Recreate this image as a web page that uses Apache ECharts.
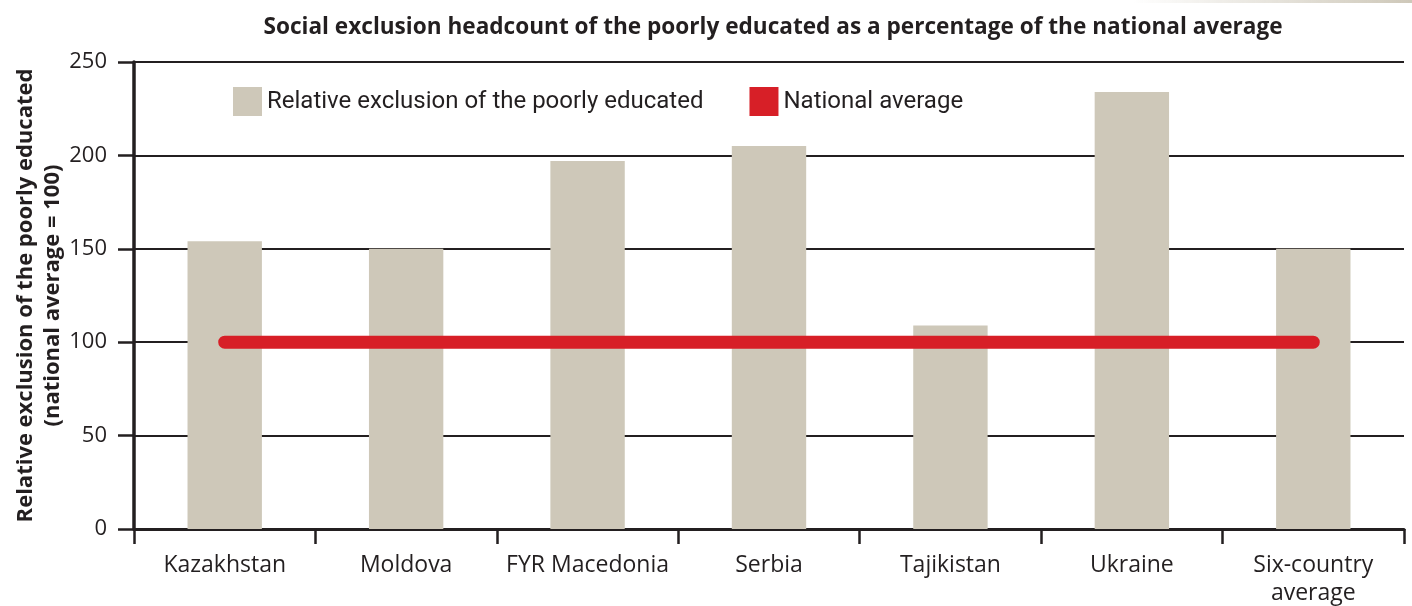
<!DOCTYPE html>
<html lang="en">
<head>
  <meta charset="UTF-8">
  <title>Social exclusion headcount of the poorly educated</title>
  <style>
    html, body { margin: 0; padding: 0; background: #fff; }
    #chart { width: 1412px; height: 606px; }
  </style>
  <script src="https://cdn.jsdelivr.net/npm/echarts@6/dist/echarts.min.js"></script>
</head>
<body>
<div id="chart"></div>
<script>
  // data
  var categories = ['Kazakhstan', 'Moldova', 'FYR Macedonia', 'Serbia', 'Tajikistan', 'Ukraine', 'Six-country\naverage'];
  var exclusion = [154, 150, 197, 205, 109, 234, 150];
  var nationalAverage = [100, 100, 100, 100, 100, 100, 100];

  var ink = '#231f20';
  var font = 'Open Sans';

  var myChart = echarts.init(document.getElementById('chart'));

  var option = {
    animation: false,
    title: {
      text: 'Social exclusion headcount of the poorly educated as a percentage of the national average',
      left: 768,
      textAlign: 'center',
      top: 11,
      textStyle: { fontFamily: font, fontWeight: 'bold', fontSize: 22.6, color: ink }
    },
    graphic: [{
      type: 'rect',
      right: 0,
      top: 0,
      shape: { width: 280, height: 3 },
      style: {
        fill: new echarts.graphic.LinearGradient(0, 0, 1, 0, [
          { offset: 0, color: 'rgba(206,200,185,0)' },
          { offset: 1, color: 'rgba(206,200,185,1)' }
        ])
      }
    }],
    legend: {
      left: 228,
      top: 82,
      itemWidth: 29,
      itemHeight: 29,
      itemGap: 46,
      textStyle: { fontFamily: 'Roboto', fontSize: 24, color: ink },
      data: [
        { name: 'Relative exclusion of the poorly educated', icon: 'rect' },
        { name: 'National average', icon: 'rect' }
      ]
    },
    grid: { left: 134, right: 8, top: 62, bottom: 77, containLabel: false, outerBoundsMode: 'none' },
    xAxis: {
      type: 'category',
      data: categories,
      axisLine: { lineStyle: { color: ink, width: 3 } },
      axisTick: { show: true, length: 15, lineStyle: { color: ink, width: 2.5 } },
      axisLabel: { interval: 0, margin: 22, fontFamily: font, fontSize: 23, color: ink, lineHeight: 28 }
    },
    yAxis: {
      type: 'value',
      min: 0,
      max: 250,
      interval: 50,
      name: 'Relative exclusion of the poorly educated\n(national average = 100)',
      nameLocation: 'middle',
      nameRotate: 90,
      nameGap: 68,
      nameMoveOverlap: false,
      nameTextStyle: { fontFamily: font, fontWeight: 'bold', fontSize: 22, color: ink, lineHeight: 27 },
      axisLine: { show: true, lineStyle: { color: ink, width: 3.5 } },
      axisTick: { show: true, length: 16, lineStyle: { color: ink, width: 2.5 } },
      axisLabel: { margin: 27, fontFamily: font, fontSize: 22, color: ink },
      splitLine: { lineStyle: { color: ink, width: 2 } }
    },
    series: [
      {
        name: 'Relative exclusion of the poorly educated',
        type: 'bar',
        data: exclusion,
        barWidth: '41%',
        itemStyle: { color: '#cec8b9' }
      },
      {
        name: 'National average',
        type: 'line',
        data: nationalAverage,
        symbol: 'none',
        itemStyle: { color: '#d71f27' },
        lineStyle: { color: '#d71f27', width: 13, cap: 'round' },
        z: 5
      }
    ]
  };

  myChart.setOption(option);
</script>
</body>
</html>
